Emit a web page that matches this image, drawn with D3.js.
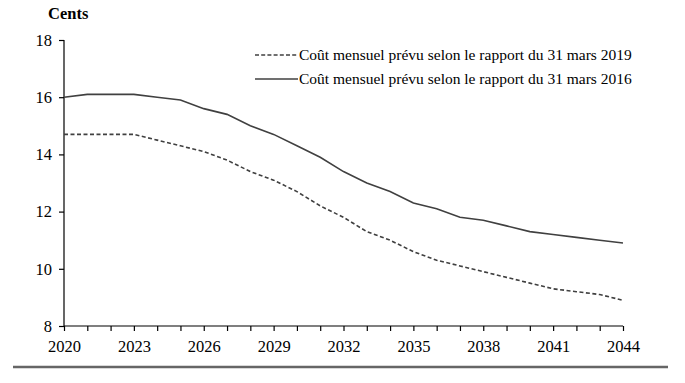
<!DOCTYPE html>
<html><head><meta charset="utf-8">
<script src="https://cdnjs.cloudflare.com/ajax/libs/d3/7.8.5/d3.min.js"></script>
<style>body{margin:0;background:#fff}svg{display:block}</style>
</head><body>
<svg id="c" width="685" height="383"></svg>
<script>
const years = d3.range(2020, 2045);
const cost2019 = [14.7,14.7,14.7,14.7,14.5,14.3,14.1,13.8,13.4,13.1,12.7,12.2,11.8,11.3,11.0,10.6,10.3,10.1,9.9,9.7,9.5,9.3,9.2,9.1,8.9];
const cost2016 = [16.0,16.1,16.1,16.1,16.0,15.9,15.6,15.4,15.0,14.7,14.3,13.9,13.4,13.0,12.7,12.3,12.1,11.8,11.7,11.5,11.3,11.2,11.1,11.0,10.9];
const yTicks = [8,10,12,14,16,18];
const xLabelYears = [2020,2023,2026,2029,2032,2035,2038,2041,2044];
const seriesNames = ["Coût mensuel prévu selon le rapport du 31 mars 2019","Coût mensuel prévu selon le rapport du 31 mars 2016"];
const unitLabel = "Cents";

const svg = d3.select("#c");
const FF = '"Liberation Serif"';
const x = d3.scaleLinear().domain([2020,2044]).range([64,623]);
const y = d3.scaleLinear().domain([8,18]).range([326,40]);
const col = "#000";

const ya = svg.append("g").attr("transform","translate(64,0)")
  .call(d3.axisLeft(y).tickValues(yTicks).tickSize(5).tickPadding(7).tickFormat(d3.format("d")));
ya.attr("font-family",null);
ya.selectAll("text").style("font-family",FF).style("font-size","16.5px").attr("fill","#000");
ya.selectAll("line,path").attr("stroke",col).attr("stroke-width",1.2);
ya.select(".domain").attr("d","M0,40V326");

const xa = svg.append("g").attr("transform","translate(0,326)")
  .call(d3.axisBottom(x).tickValues(years).tickSize(5).tickPadding(9)
    .tickFormat(d => xLabelYears.includes(d) ? String(d) : ""));
xa.attr("font-family",null);
xa.selectAll("text").style("font-family",FF).style("font-size","16.5px").attr("fill","#000");
xa.selectAll("line,path").attr("stroke",col).attr("stroke-width",1.2);
xa.select(".domain").attr("d","M64,0H623");

svg.append("text").attr("x",48).attr("y",19).style("font-family",FF)
  .style("font-weight","bold").style("font-size","16.5px").text(unitLabel);

const line = d3.line().x((d,i)=>x(years[i])).y(d=>y(d));
svg.append("path").datum(cost2016).attr("d",line).attr("fill","none")
  .attr("stroke","#404040").attr("stroke-width",1.6);
svg.append("path").datum(cost2019).attr("d",line).attr("fill","none")
  .attr("stroke","#404040").attr("stroke-width",1.6).attr("stroke-dasharray","4,2.5");

const leg = [{name:seriesNames[0],dash:"4,2.2",yy:55},{name:seriesNames[1],dash:null,yy:79}];
leg.forEach(l=>{
  svg.append("line").attr("x1",255).attr("x2",298).attr("y1",l.yy).attr("y2",l.yy)
    .attr("stroke","#404040").attr("stroke-width",1.6).attr("stroke-dasharray",l.dash);
  svg.append("text").attr("x",299).attr("y",l.yy+5).style("font-family",FF)
    .style("font-size","15.5px").attr("fill","#000").text(l.name);
});

svg.append("line").attr("x1",13).attr("x2",668).attr("y1",367).attr("y2",367)
  .attr("stroke","#666").attr("stroke-width",2.5);
</script>
</body></html>
